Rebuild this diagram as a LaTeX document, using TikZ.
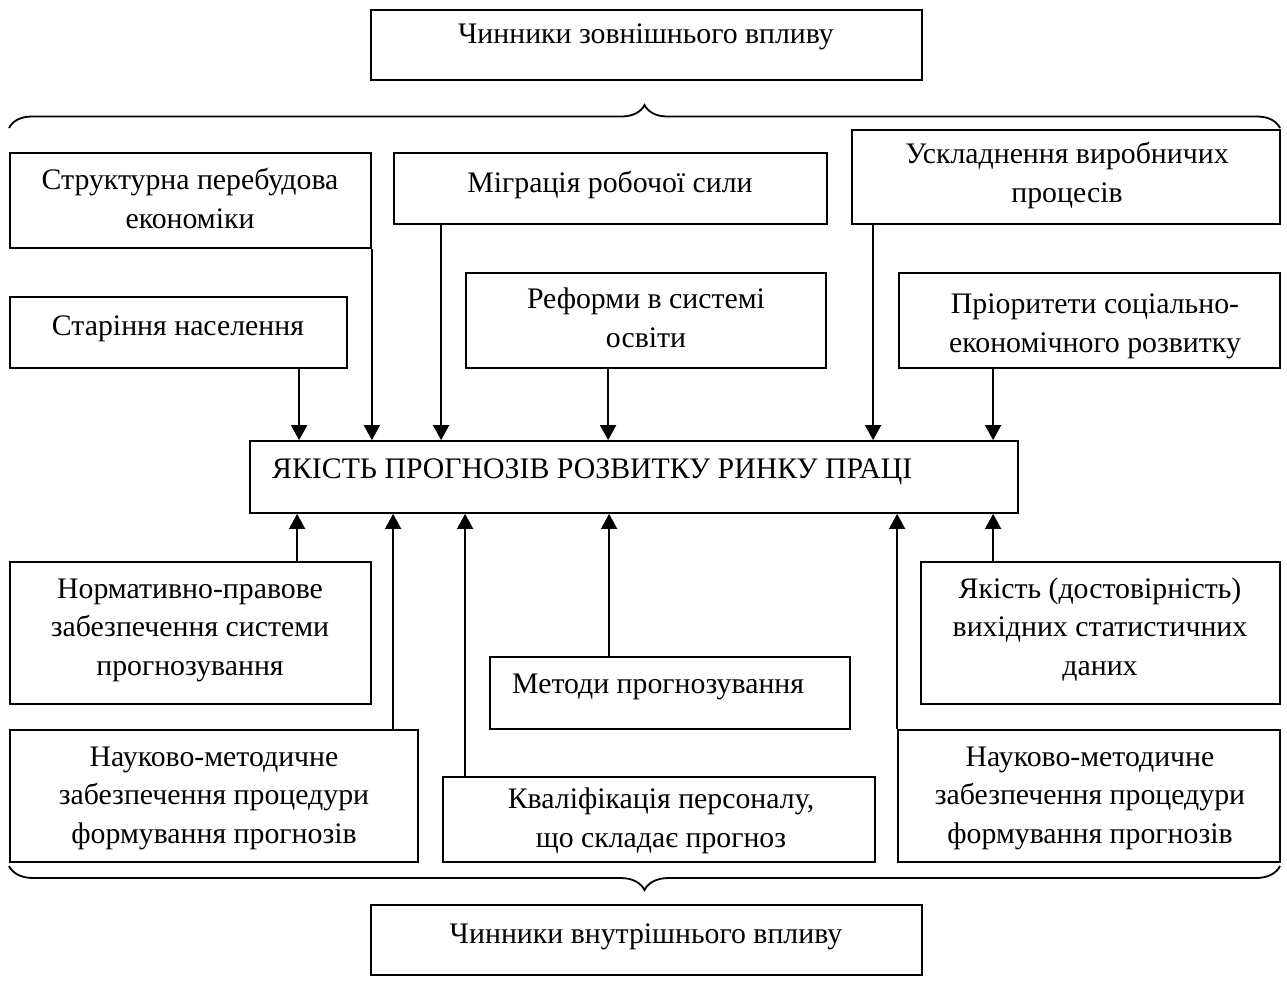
\documentclass[tikz,border=0pt]{standalone}
\usepackage{fontspec}
\setmainfont{Liberation Serif}
\usetikzlibrary{arrows.meta,decorations.pathreplacing}
\newcommand\mybox[5]{\node[box, minimum width={#4-#2}, minimum height={#5-#3}] (#1) at ({(#2+#4)/2},{(#3+#5)/2}) {};}
\tikzset{
  box/.style={draw, line width=1.8pt, inner sep=0pt, fill=none},
  txt/.style={font=\fontsize{29.8}{38.5}\selectfont, align=center, inner sep=0pt},
  arr/.style={line width=1.8pt, -{Triangle[width=16pt,length=15pt]}},
  brc/.style={line width=1.8pt, decorate, decoration={brace, amplitude=#1}},
}
\begin{document}
\begin{tikzpicture}[x=1pt,y=-1pt]
\useasboundingbox (0,0) rectangle (1287,989);
% boxes
\mybox{outer}{371}{10}{922}{80}
\mybox{struct}{10}{153}{371}{248}
\mybox{migr}{394}{153}{827}{224}
\mybox{uskl}{852}{130}{1280}{224}
\mybox{star}{10}{297}{347}{368}
\mybox{reform}{466}{273}{826}{368}
\mybox{prior}{899}{273}{1280}{368}
\mybox{main}{250}{441}{1018}{513}
\mybox{norm}{10}{562}{371}{704}
\mybox{metod}{490}{657}{850}{729}
\mybox{yak}{921}{562}{1280}{704}
\mybox{naukl}{10}{730}{418}{862}
\mybox{kval}{443}{777}{875}{862}
\mybox{naukr}{898}{730}{1280}{862}
\mybox{inner}{371}{905}{922}{975}
% texts (base anchor = baseline of the last line)
\node[txt, anchor=base] (t-outer) at (646,43) {Чинники зовнішнього впливу};
\node[txt, anchor=base] (t-struct) at (190,228) {Структурна перебудова\\економіки};
\node[txt, anchor=base] (t-migr) at (610,192) {Міграція робочої сили};
\node[txt, anchor=base] (t-uskl) at (1067,202) {Ускладнення виробничих\\процесів};
\node[txt, anchor=base] (t-star) at (178,335) {Старіння населення};
\node[txt, anchor=base] (t-reform) at (646,347) {Реформи в системі\\освіти};
\node[txt, anchor=base] (t-prior) at (1095,352) {Пріоритети соціально-\\економічного розвитку};
\node[txt, anchor=base west] (t-main) at (272,478) {ЯКІСТЬ ПРОГНОЗІВ РОЗВИТКУ РИНКУ ПРАЦІ};
\node[txt, anchor=base] (t-norm) at (190,675) {Нормативно-правове\\забезпечення системи\\прогнозування};
\node[txt, anchor=base west] (t-metod) at (512,693) {Методи прогнозування};
\node[txt, anchor=base] (t-yak) at (1100,675) {Якість (достовірність)\\вихідних статистичних\\даних};
\node[txt, anchor=base] (t-naukl) at (214,843) {Науково-методичне\\забезпечення процедури\\формування прогнозів};
\node[txt, anchor=base] (t-kval) at (661,847) {Кваліфікація персоналу,\\що складає прогноз};
\node[txt, anchor=base] (t-naukr) at (1090,843) {Науково-методичне\\забезпечення процедури\\формування прогнозів};
\node[txt, anchor=base] (t-inner) at (646,943) {Чинники внутрішнього впливу};
% braces
\coordinate (bt1) at (9,128);
\coordinate (bt2) at (1280,128);
\coordinate (bb1) at (1280,866);
\coordinate (bb2) at (9,866);
\draw[brc=23pt] (bt1) -- (bt2);
\draw[brc=24pt] (bb1) -- (bb2);
% arrows down into main
\draw[arr] ([xshift=290pt]star.south west) -- ([xshift=290pt]star.south west |- main.north);
\draw[arr] (struct.south east) -- (struct.south east |- main.north);
\draw[arr] ([xshift=48pt]migr.south west) -- ([xshift=48pt]migr.south west |- main.north);
\draw[arr] ([xshift=143pt]reform.south west) -- ([xshift=143pt]reform.south west |- main.north);
\draw[arr] ([xshift=22pt]uskl.south west) -- ([xshift=22pt]uskl.south west |- main.north);
\draw[arr] ([xshift=95pt]prior.south west) -- ([xshift=95pt]prior.south west |- main.north);
% arrows up into main
\draw[arr] ([xshift=288pt]norm.north west) -- ([xshift=288pt]norm.north west |- main.south);
\draw[arr] ([xshift=384pt]naukl.north west) -- ([xshift=384pt]naukl.north west |- main.south);
\draw[arr] ([xshift=23pt]kval.north west) -- ([xshift=23pt]kval.north west |- main.south);
\draw[arr] ([xshift=120pt]metod.north west) -- ([xshift=120pt]metod.north west |- main.south);
\draw[arr] (naukr.north west) -- (naukr.north west |- main.south);
\draw[arr] ([xshift=73pt]yak.north west) -- ([xshift=73pt]yak.north west |- main.south);
\end{tikzpicture}
\end{document}
